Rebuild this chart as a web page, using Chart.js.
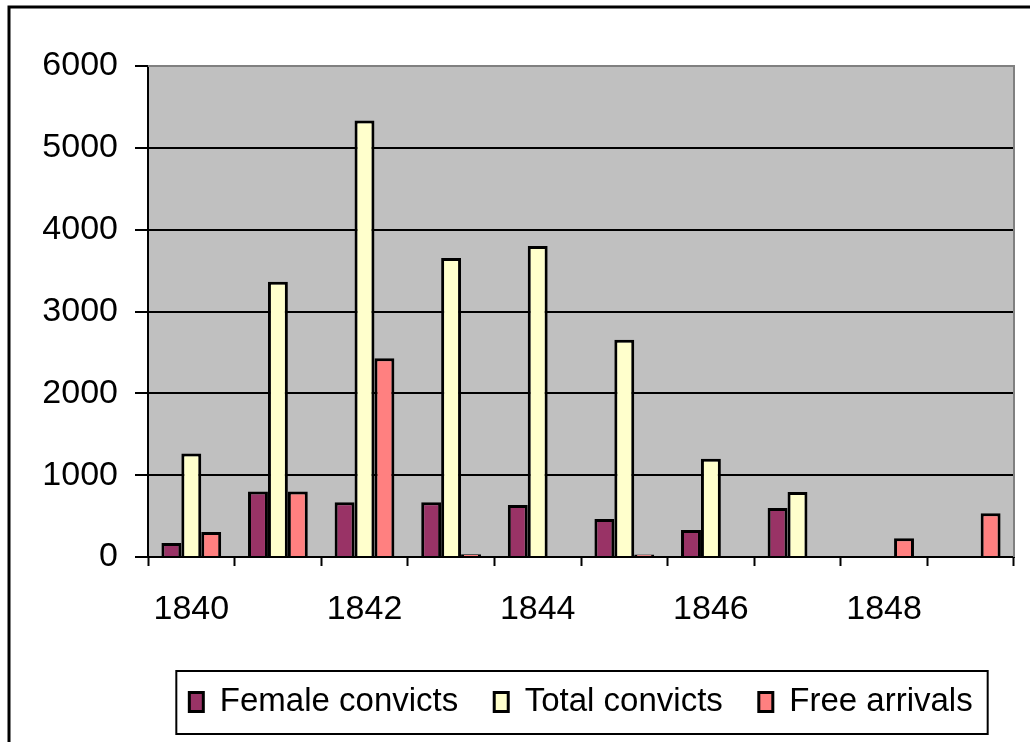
<!DOCTYPE html>
<html>
<head>
<meta charset="utf-8">
<script src="https://cdn.jsdelivr.net/npm/chart.js@4.4.1/dist/chart.umd.min.js"></script>
<style>
  html, body { margin: 0; padding: 0; background: #fff; }
</style>
</head>
<body>
<canvas id="chart" width="1030" height="742"></canvas>
<script>
// data (blank cells = null)
const years = ['1840', '1841', '1842', '1843', '1844', '1845', '1846', '1847', '1848', '1849'];
const femaleConvicts = [170, 800, 670, 670, 635, 465, 330, 600, null, null];
const totalConvicts = [1265, 3365, 5335, 3655, 3800, 2655, 1200, 795, null, null];
const freeArrivals = [305, 800, 2430, 35, null, 30, null, null, 230, 535];
const seriesNames = ['Female convicts', 'Total convicts', 'Free arrivals'];
const yTicks = [0, 1000, 2000, 3000, 4000, 5000, 6000];

const FONT = "Arial, 'Liberation Sans', sans-serif";

// grey plot area + grey top/right edge
const plotBg = {
    id: 'plotBg',
    beforeDraw(chart) {
        const { ctx, chartArea: a } = chart;
        ctx.save();
        ctx.fillStyle = '#c0c0c0';
        ctx.fillRect(a.left, a.top, a.right - a.left, a.bottom - a.top);
        ctx.restore();
    },
    afterDatasetsDraw(chart) {
        const { ctx, chartArea: a } = chart;
        ctx.save();
        ctx.strokeStyle = '#808080';
        ctx.lineWidth = 2;
        ctx.beginPath();
        ctx.moveTo(a.left, a.top);
        ctx.lineTo(a.right, a.top);
        ctx.lineTo(a.right, a.bottom);
        ctx.stroke();
        ctx.restore();
    }
};

// outer frame (left + top only visible) and box round the legend
const frames = {
    id: 'frames',
    afterDraw(chart) {
        const ctx = chart.ctx;
        ctx.save();
        ctx.strokeStyle = '#000';
        ctx.lineWidth = 3;
        ctx.beginPath();
        ctx.moveTo(9, 760);
        ctx.lineTo(9, 7);
        ctx.lineTo(1040, 7);
        ctx.stroke();

        const boxes = chart.legend.legendHitBoxes;
        if (boxes && boxes.length) {
            const first = boxes[0], last = boxes[boxes.length - 1];
            const x0 = first.left - 13;
            const x1 = last.left + last.width + 15;
            const cy = first.top + first.height / 2;
            ctx.lineWidth = 2;
            ctx.strokeRect(x0, cy - 31, x1 - x0, 63);
        }
        ctx.restore();
    }
};

new Chart(document.getElementById('chart'), {
    type: 'bar',
    data: {
        labels: years,
        datasets: [
            { label: seriesNames[0], data: femaleConvicts, backgroundColor: '#993366' },
            { label: seriesNames[1], data: totalConvicts, backgroundColor: '#ffffcc' },
            { label: seriesNames[2], data: freeArrivals, backgroundColor: '#ff8080' }
        ]
    },
    options: {
        responsive: false,
        animation: false,
        devicePixelRatio: 1,
        layout: { padding: { top: 66, right: 16, left: 0, bottom: 13.5 } },
        datasets: {
            bar: {
                categoryPercentage: 0.69,
                barPercentage: 1.0,
                borderColor: '#000',
                borderWidth: 3,
                borderSkipped: 'start'
            }
        },
        scales: {
            x: {
                offset: true,
                afterFit(scale) { scale.height = 92.5; },
                grid: {
                    offset: true,
                    drawOnChartArea: false,
                    drawTicks: true,
                    tickLength: 9,
                    tickWidth: 2,
                    tickColor: '#000'
                },
                border: { color: '#000', width: 2 },
                ticks: {
                    autoSkip: false,
                    maxRotation: 0,
                    padding: 23,
                    color: '#000',
                    font: { family: FONT, size: 34 },
                    callback(v, i) { return i % 2 === 0 ? years[i] : ''; }
                }
            },
            y: {
                min: 0,
                max: 6000,
                afterFit(scale) { scale.width = 148; },
                afterBuildTicks(scale) { scale.ticks = yTicks.map(v => ({ value: v })); },
                grid: {
                    color: ctx => (ctx.tick && ctx.tick.value === 6000) ? '#808080' : '#000',
                    lineWidth: 2,
                    tickLength: 13,
                    tickColor: '#000',
                    tickWidth: 2
                },
                border: { color: '#000', width: 2 },
                ticks: {
                    padding: 17,
                    color: '#000',
                    font: { family: FONT, size: 34 },
                    callback: v => String(v)
                }
            }
        },
        plugins: {
            tooltip: { enabled: false },
            legend: {
                position: 'bottom',
                fullSize: false,
                labels: {
                    color: '#000',
                    font: { family: FONT, size: 33 },
                    boxWidth: 14,
                    boxHeight: 19,
                    padding: 36,
                    useBorderRadius: false
                }
            }
        }
    },
    plugins: [plotBg, frames]
});
</script>
</body>
</html>
